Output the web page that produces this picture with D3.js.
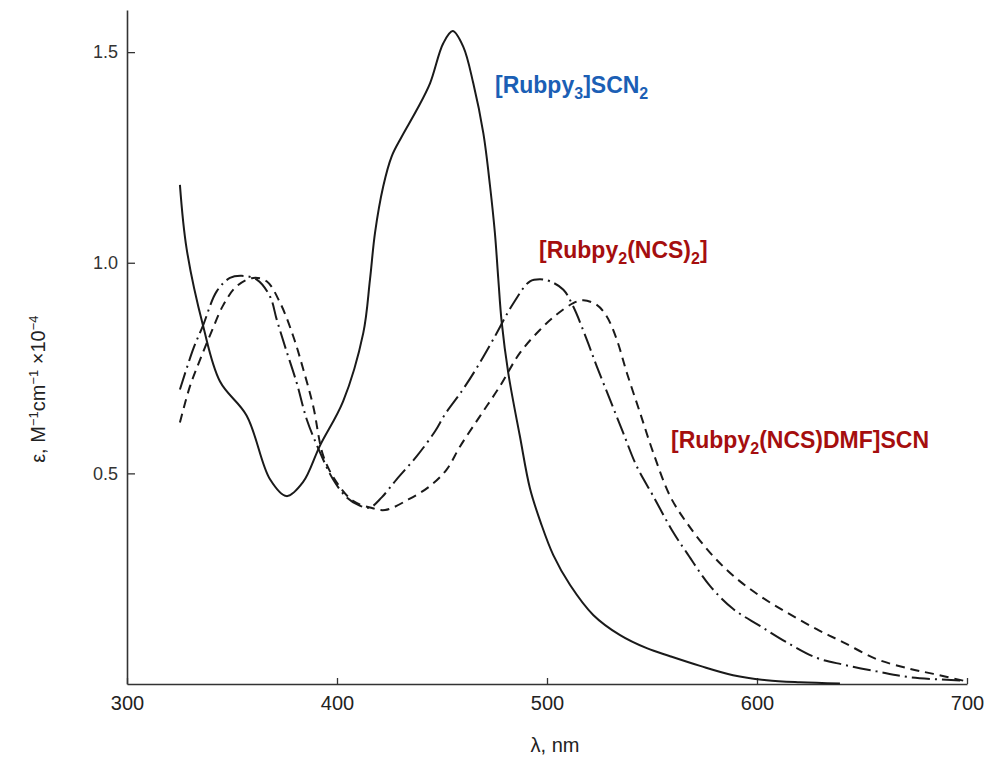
<!DOCTYPE html>
<html>
<head>
<meta charset="utf-8">
<script src="https://cdn.jsdelivr.net/npm/d3@7"></script>
<style>
  html, body { margin: 0; padding: 0; background: #fff; }
  svg { display: block; }
</style>
</head>
<body>
<svg id="chart" width="990" height="762"></svg>
<script>
// ---- data (wavelength nm, epsilon x 10^-4) ----
const xTicks = [300, 400, 500, 600, 700];
const yTicks = [0.5, 1.0, 1.5];

const rubpy3Nm  = [325.2,328.4,336.2,344.3,357.0,368.1,376.0,383.8,391.9,402.9,412.5,415.7,418.1,422.0,426.0,430.8,438.0,444.3,450.6,455.1,460.1,464.9,469.7,472.9,475.2,476.8,478.4,481.6,487.1,491.9,497.1,503.0,511.0,522.0,534.8,547.5,558.6,572.9,588.6,604.6,620.5,639.5];
const rubpy3Eps = [1.185,1.033,0.851,0.718,0.637,0.486,0.446,0.479,0.566,0.671,0.833,0.960,1.071,1.181,1.252,1.299,1.363,1.426,1.521,1.550,1.513,1.426,1.307,1.181,1.070,0.962,0.860,0.737,0.588,0.464,0.382,0.306,0.235,0.164,0.116,0.085,0.066,0.043,0.021,0.009,0.004,0.001];

const ncs2Nm  = [325.2,331.6,336.2,342.7,349.0,354.6,361.8,368.1,371.3,375.2,380.8,385.6,391.9,398.1,404.6,411.0,415.7,421.3,428.4,438.0,446.7,451.4,459.4,466.5,474.4,484.0,491.9,496.7,501.4,507.8,512.5,518.9,523.7,530.0,536.3,542.7,550.6,560.1,566.5,577.6,588.7,601.4,614.1,628.4,641.1,657.0,672.9,698.2];
const ncs2Eps = [0.699,0.796,0.851,0.932,0.964,0.969,0.960,0.920,0.865,0.802,0.715,0.628,0.550,0.486,0.443,0.423,0.419,0.443,0.486,0.541,0.600,0.640,0.695,0.750,0.818,0.904,0.956,0.961,0.956,0.936,0.896,0.818,0.754,0.675,0.596,0.517,0.446,0.360,0.312,0.233,0.178,0.138,0.099,0.062,0.046,0.030,0.016,0.008];

const dmfNm  = [325.2,330.0,334.8,340.3,345.9,352.2,360.1,366.5,372.9,379.2,384.0,388.7,393.5,399.9,407.8,415.7,422.9,434.0,444.3,452.2,458.6,468.1,477.6,487.1,496.7,504.6,512.5,517.3,523.7,528.4,533.2,538.0,544.3,550.6,558.6,566.5,577.6,588.7,601.4,614.1,628.4,641.1,657.0,672.9,684.0,698.2];
const dmfEps = [0.621,0.707,0.770,0.837,0.900,0.944,0.964,0.956,0.905,0.825,0.746,0.659,0.541,0.478,0.434,0.419,0.413,0.438,0.470,0.509,0.564,0.636,0.707,0.786,0.841,0.877,0.904,0.911,0.900,0.873,0.818,0.739,0.644,0.549,0.446,0.383,0.312,0.257,0.209,0.170,0.130,0.099,0.059,0.036,0.024,0.008];

const seriesNames = ["[Rubpy3]SCN2", "[Rubpy2(NCS)2]", "[Rubpy2(NCS)DMF]SCN"];

// ---- drawing ----
const svg = d3.select("#chart");
const x = d3.scaleLinear().domain([300, 700]).range([127, 967]);
const y = d3.scaleLinear().domain([0, 1.6]).range([684, 10]);

const axisColor = "#333";
const fontFam = "'Liberation Sans', Arial, sans-serif";

const gx = svg.append("g")
  .attr("transform", `translate(0,${y(0)})`)
  .call(d3.axisBottom(x).tickValues(xTicks).tickSizeInner(-6).tickSizeOuter(0).tickPadding(12).tickFormat(d3.format("d")));
gx.select(".domain").attr("stroke", axisColor).attr("stroke-width", 1.6);
gx.selectAll(".tick line").attr("stroke", axisColor).attr("stroke-width", 1.3);
gx.selectAll(".tick text").attr("font-family", fontFam).attr("font-size", 20).attr("fill", "#222");

const gy = svg.append("g")
  .attr("transform", `translate(${x(300)},0)`)
  .call(d3.axisLeft(y).tickValues(yTicks).tickSizeInner(-8).tickSizeOuter(0).tickPadding(9).tickFormat(d3.format(".1f")));
gy.select(".domain").attr("stroke", axisColor).attr("stroke-width", 1.6);
gy.selectAll(".tick line").attr("stroke", axisColor).attr("stroke-width", 1.3);
gy.selectAll(".tick text").attr("font-family", fontFam).attr("font-size", 18).attr("fill", "#333");

const line = d3.line().x(d => x(d[0])).y(d => y(d[1])).curve(d3.curveCatmullRom.alpha(0.5));
const zip = (a, b) => a.map((v, i) => [v, b[i]]);

const curves = [
  { data: zip(rubpy3Nm, rubpy3Eps), dash: null },
  { data: zip(ncs2Nm, ncs2Eps), dash: "18,5,2,5" },
  { data: zip(dmfNm, dmfEps), dash: "9,6" }
];
svg.append("g").selectAll("path").data(curves).join("path")
  .attr("d", d => line(d.data))
  .attr("fill", "none")
  .attr("stroke", "#1a1a1a")
  .attr("stroke-width", 2)
  .attr("stroke-dasharray", d => d.dash);

// axis titles
svg.append("text")
  .attr("x", (x(300) + x(700)) / 2 + 8).attr("y", 752)
  .attr("text-anchor", "middle")
  .attr("font-family", fontFam).attr("font-size", 20).attr("fill", "#222")
  .text("λ, nm");

const yt = svg.append("text")
  .attr("transform", `translate(45,${y(0.7)}) rotate(-90)`)
  .attr("text-anchor", "middle")
  .attr("font-family", fontFam).attr("font-size", 20).attr("fill", "#222");
yt.append("tspan").text("ε, M");
yt.append("tspan").attr("dy", -7).attr("font-size", 13).text("−1");
yt.append("tspan").attr("dy", 7).text("cm");
yt.append("tspan").attr("dy", -7).attr("font-size", 13).text("−1");
yt.append("tspan").attr("dy", 7).text(" ×10");
yt.append("tspan").attr("dy", -7).attr("font-size", 13).text("−4");

// series labels
function label(parts, px, py, color) {
  const t = svg.append("text")
    .attr("x", px).attr("y", py)
    .attr("font-family", fontFam).attr("font-weight", "bold")
    .attr("font-size", 23).attr("fill", color);
  let shifted = false;
  parts.forEach(p => {
    const ts = t.append("tspan").text(p.t);
    if (p.sub && !shifted) { ts.attr("dy", 6).attr("font-size", 16); shifted = true; }
    else if (!p.sub && shifted) { ts.attr("dy", -6); shifted = false; }
  });
}
const blue = "#1b5fb5", red = "#a50e0e";
label([{t:"[Rubpy"},{t:"3",sub:true},{t:"]SCN"},{t:"2",sub:true}], 495, 93, blue);
label([{t:"[Rubpy"},{t:"2",sub:true},{t:"(NCS)"},{t:"2",sub:true},{t:"]"}], 539, 258, red);
label([{t:"[Rubpy"},{t:"2",sub:true},{t:"(NCS)DMF]SCN"}], 671, 448, red);
</script>
</body>
</html>
